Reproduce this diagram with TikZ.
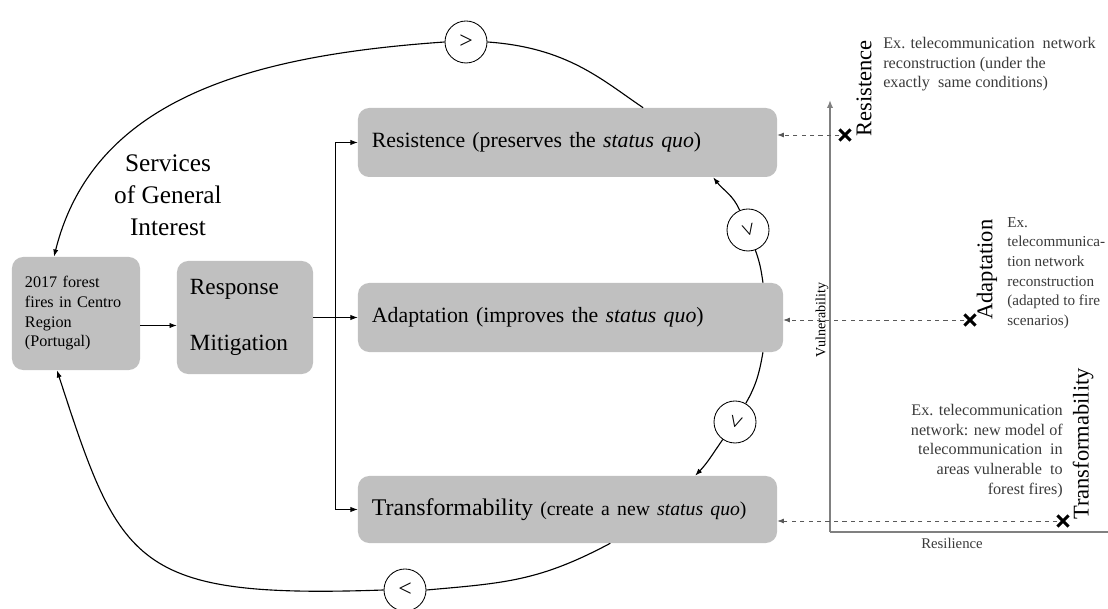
\documentclass[tikz,border=0pt]{standalone}
\usepackage{fontspec}
\setmainfont{Liberation Serif}
\usepackage{graphicx}
\usetikzlibrary{positioning,arrows.meta,shapes.misc}

\definecolor{boxgray}{HTML}{C0C0C0}
\definecolor{axisgray}{HTML}{808080}
\definecolor{notegray}{HTML}{3A3A3A}

\begin{document}
\begin{tikzpicture}[
  x=0.025cm, y=0.025cm,
  box/.style={fill=boxgray, rounded corners=8pt, inner sep=0pt, align=left},
  wide/.style={box, minimum width=10.475cm, minimum height=1.725cm, text width=9.775cm,
    font=\fontsize{15.5}{18}\selectfont},
  sign/.style={circle, draw, fill=white, line width=0.6pt, minimum size=1.05cm, inner sep=0pt,
    font=\fontsize{17}{17}\selectfont},
  xmark/.style={cross out, draw=black, line width=2.2pt, minimum size=0.2cm, inner sep=0pt},
  loop/.style={line width=0.8pt},
  tip/.style={-{Latex[length=1.8mm,width=1.3mm]}},
  link/.style={tip, line width=0.5pt},
  guide/.style={dashed, line width=0.5pt, draw=black!65, -{Latex[length=1.6mm,width=1.2mm]}},
  axis/.style={draw=axisgray, line width=1.4pt},
  note/.style={text=notegray, inner sep=0pt, font=\fontsize{11.5}{14}\selectfont},
  tag/.style={rotate=90, anchor=west, inner sep=0pt, font=\fontsize{16}{16}\selectfont}
]

\useasboundingbox (0,0) rectangle (1108,609);

\node (fire) [box, minimum width=3.2cm, minimum height=2.825cm, text width=2.55cm,
  font=\fontsize{11.5}{14}\selectfont] at (76,295.5) {2017 forest\\fires in Centro\\Region\\(Portugal)};
\node (resp) [box, minimum width=3.4cm, minimum height=2.825cm, text width=2.75cm,
  font=\fontsize{16.5}{20}\selectfont] at (245,291.5) {Response\\[20pt]Mitigation};

\node (sgi) [align=center, font=\fontsize{18}{22.7}\selectfont] at (168,414) {Services\\of General\\Interest};

\node (res) [wide] at (567.5,466.5) {Resistence (preserves the \textit{status quo})};
\node (adp) [wide, minimum width=10.625cm, text width=9.925cm] at (570.5,291.5) {Adaptation (improves the \textit{status quo})};
\node (tra) [wide, minimum height=1.675cm] at (567.5,99.5)
  {{\fontsize{17}{18}\selectfont Transformability} {\fontsize{14}{18}\selectfont(create a new \textit{status quo})}};

\node (top) [sign] at (466,567) {>};
\node (uv) [sign] at (748,379) {\rotatebox{-75}{>}};
\node (lv) [sign] at (735,187) {\rotatebox{-105}{>}};
\node (bot) [sign] at (405,19) {<};

\draw[loop, tip] (top.west) .. controls +(184:190) and +(76:165) .. ([xshift=-0.55cm]fire.north);
\draw[loop] (top.east) .. controls +(-4:80) and +(146:50) .. ([xshift=1.89cm]res.north);
\draw[loop, tip] (uv) to[out=113, in=-52] ([xshift=3.64cm]res.south);
\draw[loop] (uv) to[out=-70, in=98] ([xshift=4.81cm]adp.north);
\draw[loop] ([xshift=4.81cm]adp.south) to[out=-100, in=60] (lv);
\draw[loop, tip] (lv) to[out=-125, in=46] ([xshift=3.19cm]tra.north);
\draw[loop] ([xshift=1.07cm]tra.south) .. controls +(-152:80) and +(5:80) .. (bot.east);
\draw[loop, tip] (bot.west) .. controls +(182:250) and +(-72:205) .. ([xshift=-0.475cm]fire.south);

\coordinate (split) at (335,291.5);
\draw[link] ([yshift=-0.3cm]fire.east) -- ([yshift=-0.3cm]fire.east -| resp.west);
\draw[link] (resp.east) -- (adp.west);
\draw[link] (split) |- (res.west);
\draw[link] (split) |- (tra.west);

\coordinate (origin) at (830,77);
\coordinate (ytop) at (830,509);
\coordinate (xend) at (1108,77);
\draw[axis, -{Latex[length=2mm,width=1.6mm]}] (origin) -- (ytop);
\draw[axis] (origin) -- (xend);
\node (vul) [rotate=90, font=\fontsize{10}{10}\selectfont] at (822,289) {Vulnerability};
\node (resil) [font=\fontsize{10.5}{10.5}\selectfont, text=notegray] at (952,66) {Resilience};

\node (cr1) [xmark] at (845,474) {};
\node (cr2) [xmark] at (970,289) {};
\node (cr3) [xmark] at (1063,88) {};

\draw[guide] (cr1) -- (cr1 -| res.east);
\draw[guide] (cr2) -- (cr2 -| adp.east);
\draw[guide] (cr3) -- (cr3 -| tra.east);

\node (reslbl) [tag] at (864,472) {Resistence};
\node (adplbl) [tag] at (987,289) {Adaptation};
\node (tralbl) [tag] at (1083,89) {Transformability};

\node (ex1) [note, anchor=north west, align=left] at (883,572)
  {Ex. telecommunication\ \ network\\reconstruction (under the\\exactly\ \ same conditions)};
\node (ex2) [note, anchor=north west, align=left, font=\fontsize{10.8}{14}\selectfont] at (1007,392)
  {Ex.\\telecommunica-\\tion network\\reconstruction\\(adapted to fire\\scenarios)};
\node (ex3) [note, anchor=north east, align=right] at (1063,205)
  {Ex. telecommunication\\network: new model of\\telecommunication\ \ in\\areas vulnerable\ \ to\\forest fires)};

\end{tikzpicture}
\end{document}
